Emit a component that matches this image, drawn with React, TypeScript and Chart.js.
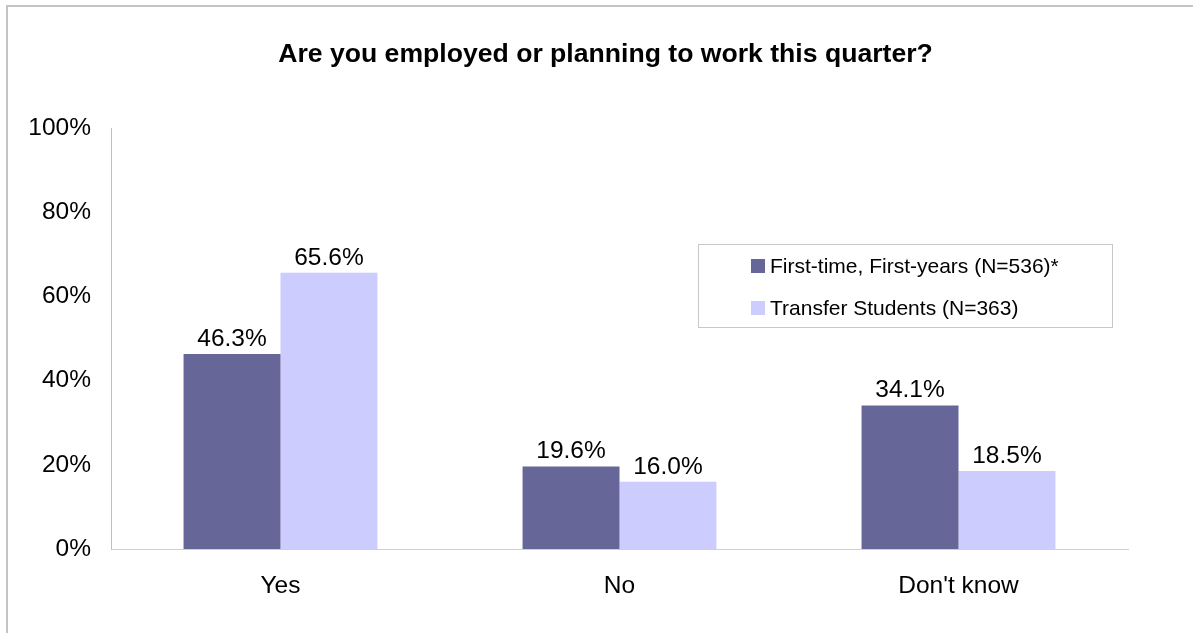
import React, { useEffect, useRef } from 'react';
import { Chart, registerables } from 'chart.js';

Chart.register(...registerables);

const TITLE = 'Are you employed or planning to work this quarter?';
const categories = ['Yes', 'No', "Don't know"];
const seriesNames = ['First-time, First-years (N=536)*', 'Transfer Students (N=363)'];
const firstYears = [46.3, 19.6, 34.1];
const transfers = [65.6, 16.0, 18.5];
const yTicks = [0, 20, 40, 60, 80, 100];
const seriesColors = ['#666699', '#CCCCFF'];

const FONT = '"Liberation Sans", Arial, Helvetica, sans-serif';
const W = 1193;
const H = 633;

const titlePlugin = {
  id: 'customTitle',
  afterDraw(chart: any) {
    const ctx = chart.ctx;
    ctx.save();
    ctx.font = `bold 26.6px ${FONT}`;
    ctx.fillStyle = '#000';
    ctx.textAlign = 'center';
    ctx.textBaseline = 'alphabetic';
    ctx.fillText(TITLE, 605.5, 62);
    ctx.restore();
  },
};

const dataLabelPlugin = {
  id: 'dataLabels',
  afterDatasetsDraw(chart: any) {
    const ctx = chart.ctx;
    ctx.save();
    ctx.font = `24.5px ${FONT}`;
    ctx.fillStyle = '#000';
    ctx.textAlign = 'center';
    ctx.textBaseline = 'alphabetic';
    chart.data.datasets.forEach((ds: any, di: number) => {
      const meta = chart.getDatasetMeta(di);
      meta.data.forEach((bar: any, i: number) => {
        ctx.fillText(Number(ds.data[i]).toFixed(1) + '%', bar.x, bar.y - 8);
      });
    });
    ctx.restore();
  },
};

const legendPlugin = {
  id: 'boxLegend',
  afterDraw(chart: any) {
    const ctx = chart.ctx;
    ctx.save();
    const bx = 698.5, by = 244.5, bw = 414, bh = 83;
    ctx.fillStyle = '#fff';
    ctx.fillRect(bx, by, bw, bh);
    ctx.strokeStyle = '#c8c8c8';
    ctx.lineWidth = 1;
    ctx.strokeRect(bx, by, bw, bh);
    ctx.font = `21px ${FONT}`;
    ctx.textAlign = 'left';
    ctx.textBaseline = 'alphabetic';
    chart.data.datasets.forEach((ds: any, i: number) => {
      const base = 273 + i * 42;
      ctx.fillStyle = ds.backgroundColor;
      ctx.fillRect(751, base - 14, 14, 14);
      ctx.fillStyle = '#000';
      ctx.fillText(ds.label, 770, base);
    });
    ctx.restore();
  },
};

export default function App() {
  const ref = useRef<HTMLCanvasElement | null>(null);

  useEffect(() => {
    if (!ref.current) return;
    Chart.defaults.font.family = FONT;
    const chart = new Chart(ref.current, {
      type: 'bar',
      data: {
        labels: categories,
        datasets: [
          {
            label: seriesNames[0],
            data: firstYears,
            backgroundColor: seriesColors[0],
            borderWidth: 0,
            categoryPercentage: 0.572,
            barPercentage: 1,
          },
          {
            label: seriesNames[1],
            data: transfers,
            backgroundColor: seriesColors[1],
            borderWidth: 0,
            categoryPercentage: 0.572,
            barPercentage: 1,
          },
        ],
      },
      options: {
        animation: false,
        responsive: false,
        devicePixelRatio: 1,
        layout: { padding: { left: 8, right: 65, top: 128, bottom: 0 } },
        plugins: {
          legend: { display: false },
          title: { display: false },
          tooltip: { enabled: false },
        },
        scales: {
          x: {
            grid: { display: false, drawTicks: false },
            border: { display: true, color: '#d0d0d0', width: 1 },
            ticks: { color: '#000', font: { size: 24.5, family: FONT }, padding: 23 },
            afterFit: (s: any) => {
              s.height = 84;
            },
          },
          y: {
            min: 0,
            max: 100,
            grid: { display: false, drawTicks: false },
            border: { display: true, color: '#c0c0c0', width: 1 },
            ticks: {
              color: '#000',
              font: { size: 24.5, family: FONT },
              padding: 20,
              callback: (v: any) => v + '%',
            },
            afterBuildTicks: (s: any) => {
              s.ticks = yTicks.map((v) => ({ value: v }));
            },
            afterFit: (s: any) => {
              s.width = 103;
            },
          },
        },
      },
      plugins: [dataLabelPlugin, legendPlugin, titlePlugin],
    });
    return () => chart.destroy();
  }, []);

  return (
    <div
      style={{
        position: 'fixed',
        left: 0,
        top: 0,
        width: W,
        height: H,
        overflow: 'hidden',
        background: '#fff',
      }}
    >
      <div
        style={{
          position: 'absolute',
          left: 6,
          top: 5,
          width: 1300,
          height: 800,
          borderLeft: '2px solid #c4c4c4',
          borderTop: '2px solid #c4c4c4',
        }}
      />
      <canvas
        ref={ref}
        width={W}
        height={H}
        style={{ position: 'absolute', left: 0, top: 0, width: W, height: H }}
      />
    </div>
  );
}
